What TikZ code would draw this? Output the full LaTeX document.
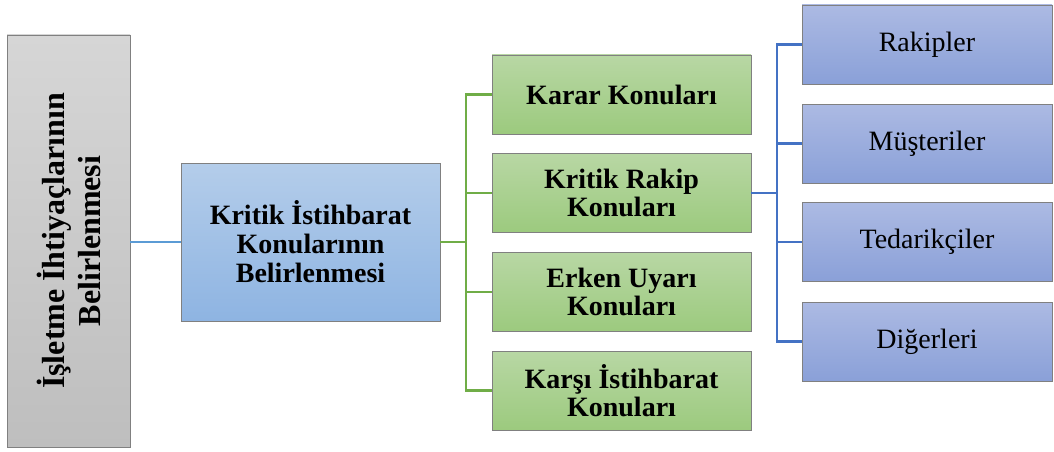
\documentclass[tikz,border=0pt]{standalone}
\usepackage{fontspec}
\setmainfont{Liberation Serif}
\definecolor{grayT}{RGB}{214,214,214}
\definecolor{grayB}{RGB}{190,190,190}
\definecolor{midT}{RGB}{180,205,234}
\definecolor{midB}{RGB}{142,180,226}
\definecolor{grnT}{RGB}{184,215,164}
\definecolor{grnB}{RGB}{156,202,126}
\definecolor{rbT}{RGB}{172,186,227}
\definecolor{rbB}{RGB}{138,160,216}
\definecolor{lnA}{RGB}{91,155,213}
\definecolor{lnG}{RGB}{112,173,71}
\definecolor{lnB}{RGB}{68,114,196}
\definecolor{edge}{RGB}{128,128,128}
\tikzset{
  box/.style={draw=edge, line width=0.8pt, inner sep=0pt, outer sep=0pt, align=center,
    font=\fontsize{28}{29}\selectfont},
  graybox/.style={box, top color=grayT, bottom color=grayB, font=\bfseries\fontsize{32}{36}\selectfont,
    minimum width=412pt, minimum height=123pt, rotate=90},
  midbox/.style={box, top color=midT, bottom color=midB, font=\bfseries\fontsize{28}{29}\selectfont,
    minimum width=259pt, minimum height=158pt},
  grnbox/.style={box, top color=grnT, bottom color=grnB, font=\bfseries\fontsize{28}{28.5}\selectfont,
    minimum width=259pt, minimum height=79pt},
  rbox/.style={box, top color=rbT, bottom color=rbB,
    minimum width=250pt, minimum height=79pt},
  aline/.style={draw=lnA, line width=1.6pt},
  gline/.style={draw=lnG, line width=2.2pt},
  bline/.style={draw=lnB, line width=2.4pt}
}
\begin{document}
\begin{tikzpicture}[x=1pt,y=-1pt]
\useasboundingbox (0,0) rectangle (1054,452);
\node[graybox] (gray) at (68.5,241) {İşletme İhtiyaçlarının\\Belirlenmesi};
\node[midbox] (mid) at (310.5,242) {Kritik İstihbarat\\Konularının\\Belirlenmesi};
\node[grnbox] (g1) at (621.5,94.5) {Karar Konuları};
\node[grnbox] (g2) at (621.5,193) {Kritik Rakip\\Konuları};
\node[grnbox] (g3) at (621.5,292) {Erken Uyarı\\Konuları};
\node[grnbox] (g4) at (621.5,390.5) {Karşı İstihbarat\\Konuları};
\node[rbox] (b1) at (927,44.5) {Rakipler};
\node[rbox] (b2) at (927,143.5) {Müşteriler};
\node[rbox] (b3) at (927,242) {Tedarikçiler};
\node[rbox] (b4) at (927,341.5) {Diğerleri};
\coordinate (gt) at (466,0);
\coordinate (bt) at (777,0);
\draw[aline] (mid.west -| gray.south) -- (mid.west);
\draw[gline] (g1.west) -| (g4.west -| gt) -- (g4.west);
\draw[gline] (mid.east) -- (mid.east -| gt);
\draw[gline] (g2.west) -- (g2.west -| gt);
\draw[gline] (g3.west) -- (g3.west -| gt);
\draw[bline] (b1.west) -| (b4.west -| bt) -- (b4.west);
\draw[bline] (b2.west) -- (b2.west -| bt);
\draw[bline] (b3.west) -- (b3.west -| bt);
\draw[bline] (g2.east) -- (g2.east -| bt);
\end{tikzpicture}
\end{document}
